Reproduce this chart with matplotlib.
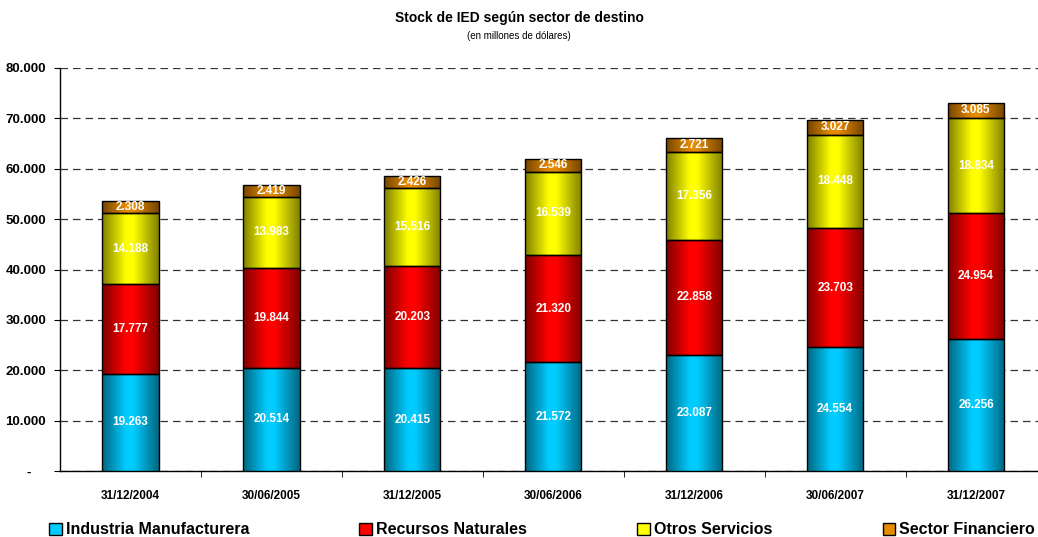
import matplotlib
matplotlib.use("Agg")
import matplotlib.pyplot as plt
import numpy as np
from matplotlib.colors import LinearSegmentedColormap, to_rgb
from matplotlib.patches import Patch
from matplotlib.ticker import FuncFormatter

plt.rcParams['font.family'] = ['Liberation Sans', 'DejaVu Sans']

categories = ["31/12/2004", "30/06/2005", "31/12/2005", "30/06/2006",
              "31/12/2006", "30/06/2007", "31/12/2007"]
industria = [19263, 20514, 20415, 21572, 23087, 24554, 26256]
recursos = [17777, 19844, 20203, 21320, 22858, 23703, 24954]
otros = [14188, 13983, 15516, 16539, 17356, 18448, 18834]
financiero = [2308, 2419, 2426, 2546, 2721, 3027, 3085]

series = [("Industria Manufacturera", industria, "#00CCFF"),
          ("Recursos Naturales", recursos, "#FF0000"),
          ("Otros Servicios", otros, "#FFFF00"),
          ("Sector Financiero", financiero, "#E68A00")]

fig = plt.figure(figsize=(10.38, 5.37), dpi=100)
ax = fig.add_axes([60/1038, 66/537, 1 - 60/1038, (471-68)/537])

x = np.arange(len(categories))
bottom = np.zeros(len(categories))
width = 0.40

grad = np.linspace(0, 1, 256).reshape(1, -1)
for name, vals, col in series:
    bars = ax.bar(x, vals, width, bottom=bottom, color=col, edgecolor="black",
                  linewidth=1.0, zorder=3)
    rgb = to_rgb(col)
    dark = tuple(v*0.5 for v in rgb)
    cmap = LinearSegmentedColormap.from_list(
        "g", [(0, dark), (0.42, rgb), (0.55, rgb), (1, dark)])
    for b in bars:
        x0, y0 = b.get_x(), b.get_y()
        w, h = b.get_width(), b.get_height()
        im = ax.imshow(grad, cmap=cmap, aspect="auto",
                       extent=[x0, x0 + w, y0, y0 + h], zorder=3.5,
                       interpolation="bicubic")
        im.set_clip_path(b)
        b.set_facecolor("none")
        b.set_zorder(4)
        ax.text(x0 + w/2, y0 + h/2, f"{int(b.get_height()):,}".replace(",", "."),
                ha="center", va="center", color="white", fontsize=8.5,
                fontweight="bold", zorder=5)
    bottom = bottom + np.array(vals)

ax.set_xlim(-0.5, 6.44)
ax.set_ylim(0, 80000)
ax.set_yticks(np.arange(0, 80001, 10000))
ax.yaxis.set_major_formatter(FuncFormatter(
    lambda v, p: "-    " if v == 0 else f"{int(v):,}".replace(",", ".")))
ax.set_xticks(x)
ax.set_xticklabels(categories, fontsize=8.5, fontweight="bold")
ax.set_xticks(np.arange(0.5, 6.5, 1), minor=True)
ax.tick_params(axis="x", which="major", length=0, pad=14)
ax.tick_params(axis="x", which="minor", length=4, direction="out")
ax.tick_params(axis="y", length=4, direction="out", pad=6, labelsize=9.5)
for lbl in ax.get_yticklabels():
    lbl.set_fontweight("bold")
ax.yaxis.grid(True, linestyle=(0, (6, 4)), color="#333333", linewidth=0.9, zorder=0)
ax.set_axisbelow(True)
for s in ["top", "right"]:
    ax.spines[s].set_visible(False)
ax.spines["left"].set_linewidth(1.0)
ax.spines["bottom"].set_linewidth(1.0)

fig.text(0.5, 1 - 18/537, "Stock de IED según sector de destino", ha="center",
         va="center", fontsize=10, fontweight="bold")
fig.text(0.5, 1 - 36/537, "(en millones de dólares)", ha="center",
         va="center", fontsize=7)

handles = [Patch(facecolor=c, edgecolor="black", linewidth=1.0) for _, _, c in series]
labels = [n for n, _, _ in series]
leg = fig.legend(handles, labels, loc="center left", bbox_to_anchor=(49/1038, 1 - 530/537),
                 ncol=4, frameon=False, prop={"weight": "bold", "size": 11.5},
                 handlelength=0.8, handleheight=0.8, handletextpad=0.25,
                 columnspacing=6.9, borderpad=0, borderaxespad=0)

fig.savefig("out.png", dpi=100)
